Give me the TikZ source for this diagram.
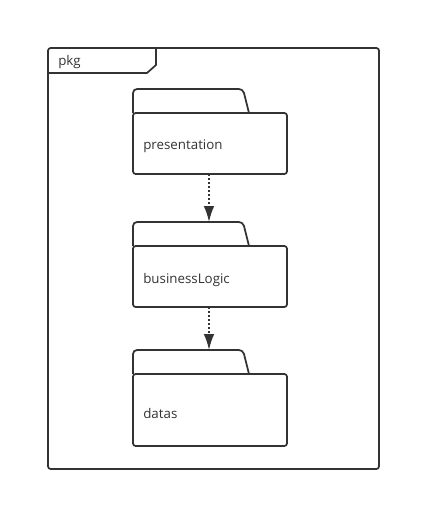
\documentclass[tikz,border=0pt]{standalone}
\usepackage{fontspec}
\setmainfont{Open Sans}
\usepackage{color}
\usetikzlibrary{arrows.meta}
\definecolor{umlgray}{HTML}{333333}

\begin{document}
\begin{tikzpicture}[x=0.75pt, y=-0.75pt, line width=1.3pt, draw=umlgray, text=umlgray,
  lbl/.style={anchor=west, font=\fontsize{10}{12}\selectfont}]
\useasboundingbox (0,0) rectangle (441,532);
\coordinate (F1) at (48,48) ;
\coordinate (F2) at (379,469) ;
\draw[rounded corners=2pt] (F1) rectangle (F2);
\draw (156,48) -- (156,65) -- (147,73) -- (48,73);
\node[lbl] (pkg) at (53,62) {pkg};
\begin{scope}[shift={(133,113)}]
\draw (0,0) [rounded corners=3pt] -- (0,-24) -- (110,-24) [sharp corners] -- (116,0);
\draw[rounded corners=2pt] (0,0) rectangle (154,61);
\coordinate (presBot) at (76,61) ;
\node[lbl] (presentation) at (5,33) {presentation};
\end{scope}
\begin{scope}[shift={(133,246)}]
\draw (0,0) [rounded corners=3pt] -- (0,-24) -- (110,-24) [sharp corners] -- (116,0);
\draw[rounded corners=2pt] (0,0) rectangle (154,61);
\coordinate (logicTop) at (76,-24) ;
\coordinate (logicBot) at (76,61) ;
\node[lbl] (businessLogic) at (5,34) {businessLogic};
\end{scope}
\begin{scope}[shift={(133,374)}]
\draw (0,0) [rounded corners=3pt] -- (0,-24) -- (110,-24) [sharp corners] -- (116,0);
\draw[rounded corners=2pt] (0,0) rectangle (154,72);
\coordinate (datasTop) at (76,-24) ;
\node[lbl] (datas) at (5,39) {datas};
\end{scope}
\draw[umlgray, dash pattern=on 1.5pt off 1.5pt] [-{Latex[length=12pt,width=8pt]}] (presBot) -- (logicTop);
\draw[umlgray, dash pattern=on 1.5pt off 1.5pt] [-{Latex[length=12pt,width=8pt]}] (logicBot) -- (datasTop);
\end{tikzpicture}
\end{document}
